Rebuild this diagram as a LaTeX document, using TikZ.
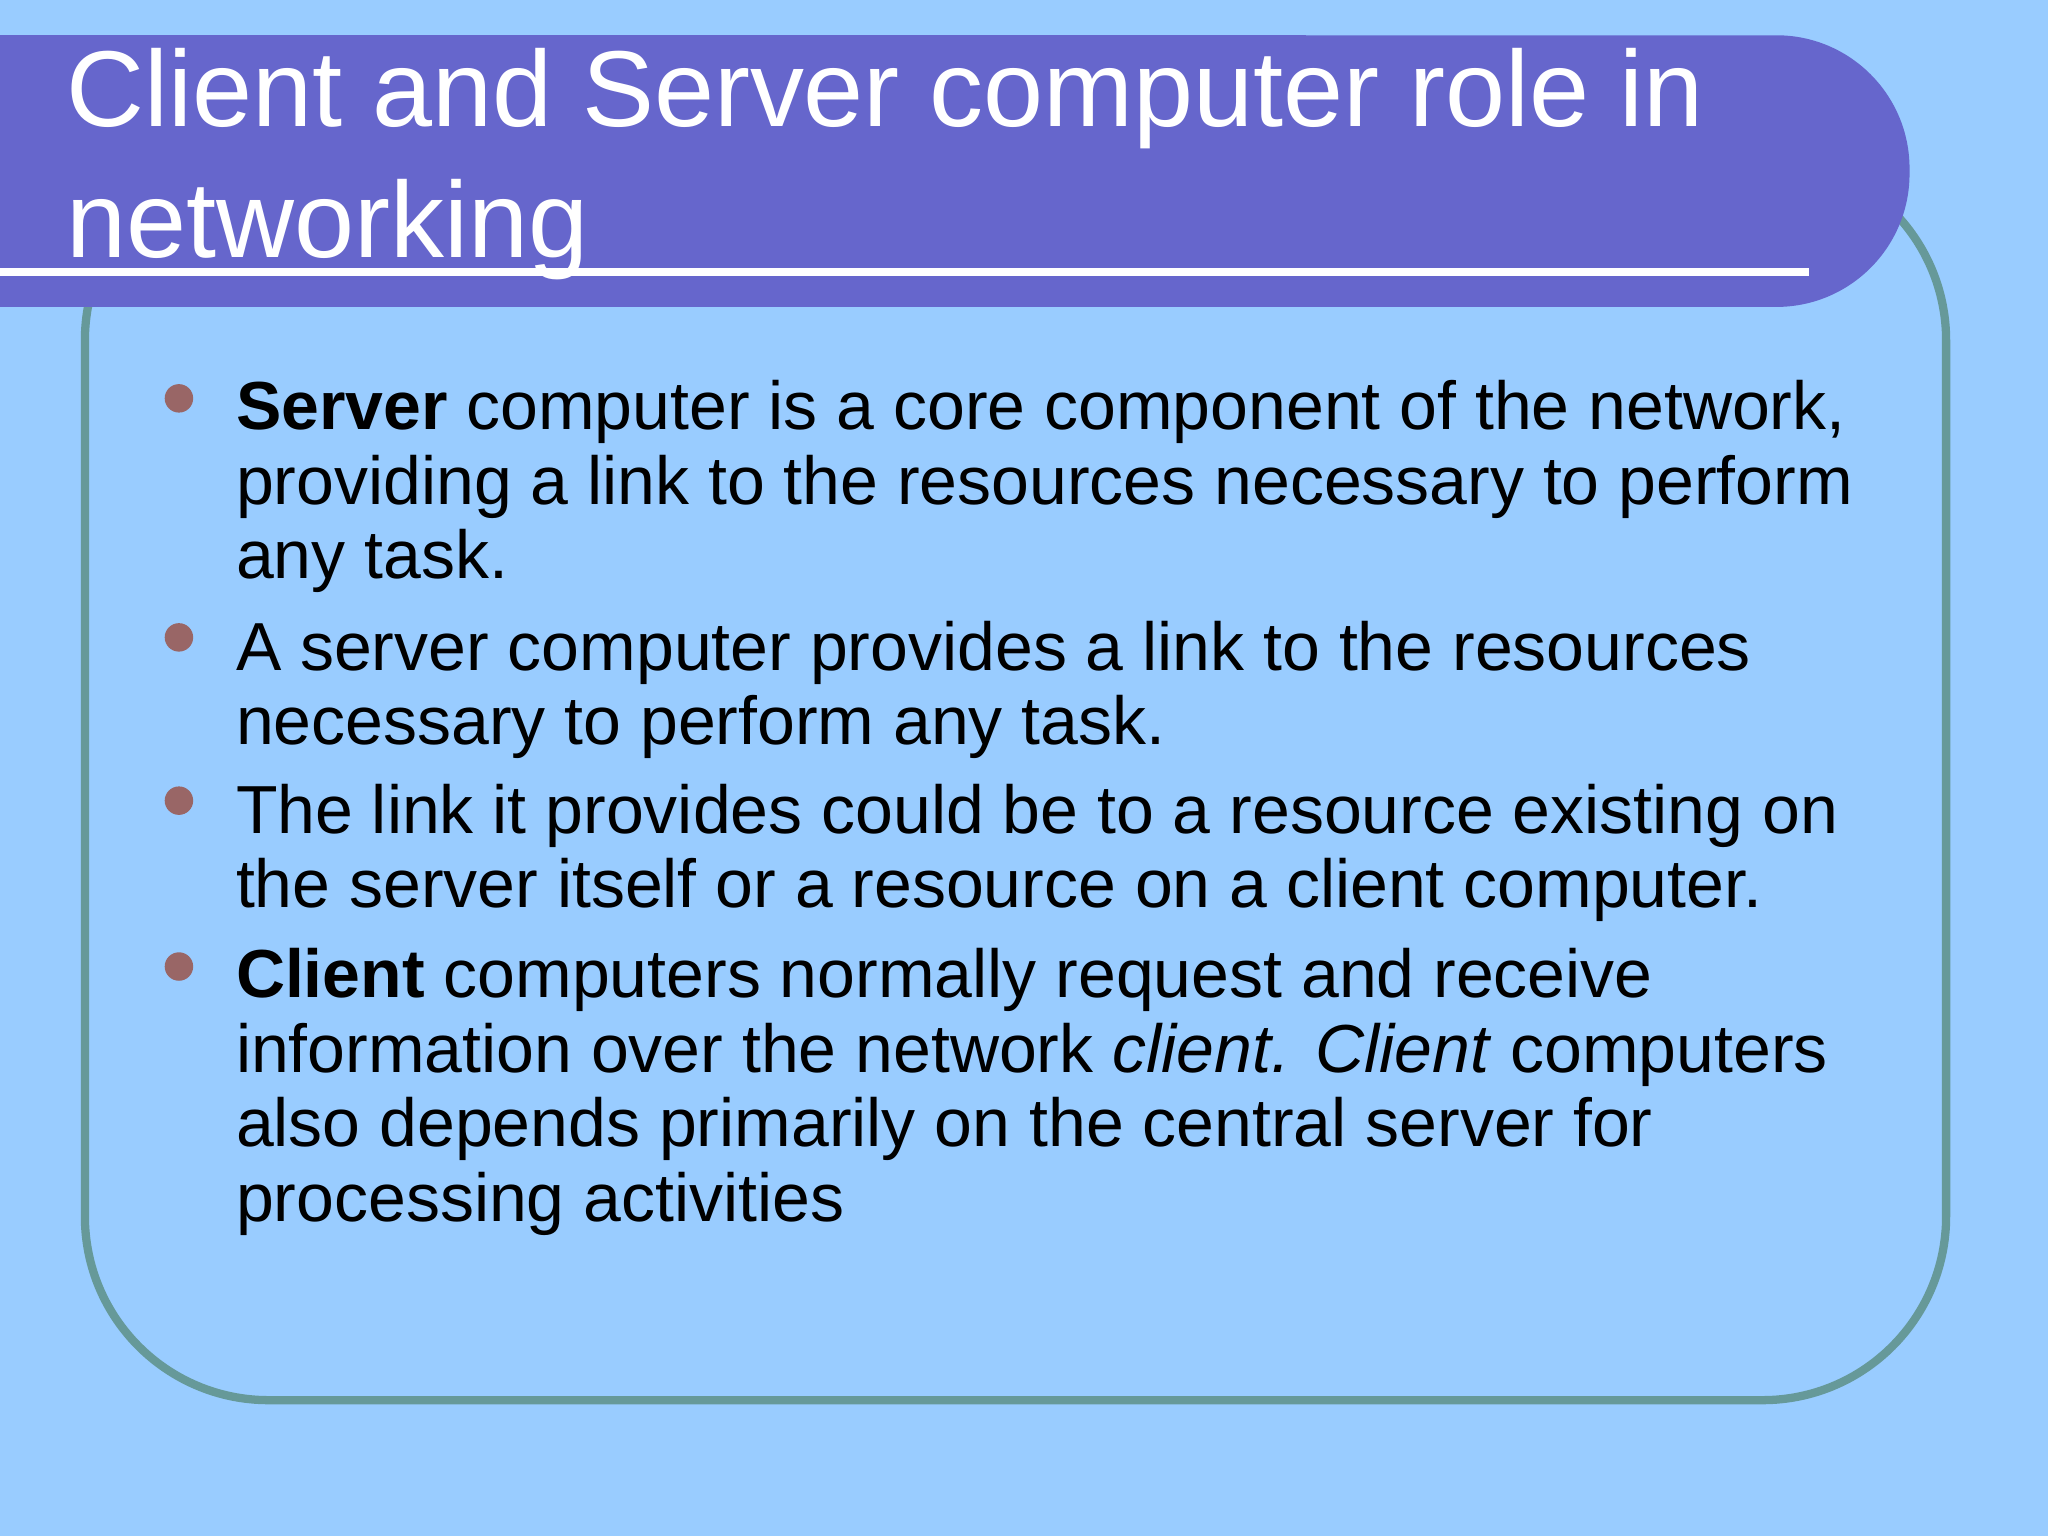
\documentclass[tikz,border=0pt]{standalone}
\usepackage{fontspec}
\setmainfont{Liberation Sans}
\definecolor{bg}{HTML}{99CCFF}
\definecolor{bar}{HTML}{6666CC}
\definecolor{frame}{HTML}{669999}
\definecolor{dot}{HTML}{996666}
\tikzset{
 bodytxt/.style={anchor=base west,align=left,inner sep=0pt,font=\fontsize{14.8}{16.2}\selectfont},
 bul/.style={circle,fill=dot,minimum size=6.2pt,inner sep=0pt},
}
\begin{document}
\begin{tikzpicture}[x=0.01cm,y=-0.01cm]
\fill[bg] (0,0) rectangle (1568,1176);
\useasboundingbox (0,0) rectangle (1568,1176);
\draw[frame,line width=1.8pt,rounded corners=40pt] (65,120) rectangle (1490,1072);
\fill[bar,rounded corners=29pt] (-100,27) rectangle (1462,235);
\fill[bar] (-100,27) rectangle (1000,235);
\fill[white] (0,205) rectangle (1385,211);
\node[anchor=base west,inner sep=0pt,text=white,align=left,font=\fontsize{23.5}{28.5}\selectfont] (title) at (50,197) {Client and Server computer role in\\networking};
\node[bul] (b1) at (137,305) {};
\node[bul] (b2) at (137,488) {};
\node[bul] (b3) at (137,613) {};
\node[bul] (b4) at (137,740) {};
\node[bodytxt] (t1) at (180,443) {\textbf{Server} computer is a core component of the network,\\providing a link to the resources necessary to perform\\any task.};
\node[bodytxt] (t2) at (180,570) {A server computer provides a link to the resources\\necessary to perform any task.};
\node[bodytxt] (t3) at (180,695) {The link it provides could be to a resource existing on\\the server itself or a resource on a client computer.};
\node[bodytxt] (t4) at (180,935) {\textbf{Client} computers normally request and receive\\information over the network \textit{client. Client} computers\\also depends primarily on the central server for\\processing activities};
\end{tikzpicture}
\end{document}
